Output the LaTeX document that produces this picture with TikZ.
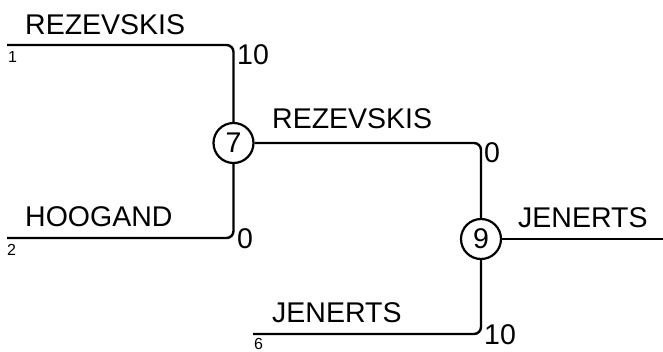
\documentclass[tikz,border=0pt]{standalone}
\usepackage{fontspec}
\setmainfont{Liberation Sans}
\begin{document}
\begin{tikzpicture}[x=1pt,y=-1pt,
  line/.style={line width=2.4pt, rounded corners=7pt},
  match/.style={circle, draw, line width=2.2pt, minimum size=40pt, inner sep=0pt, font=\fontsize{28.5}{30}\selectfont},
  lbl/.style={anchor=base west, inner sep=0pt, font=\fontsize{28.5}{30}\selectfont},
  seed/.style={anchor=base west, inner sep=0pt, font=\fontsize{16}{18}\selectfont}]
\useasboundingbox (0,0) rectangle (663,351);
\node[match] (c7) at (233.5,143) {7};
\node[match] (c9) at (481,239) {9};
\coordinate (l1) at (7,45);
\coordinate (l2) at (7,238);
\coordinate (l6) at (253,334);
\coordinate (out) at (663,239);
\draw[line] (l1) -| (c7);
\draw[line] (l2) -| (c7);
\draw[line] (c7) -| (c9);
\draw[line] (l6) -| (c9);
\draw[line] (c9) -- (out);
\node[lbl] (t1) at (25,34) {REZEVSKIS};
\node[lbl] (t2) at (25,226) {HOOGAND};
\node[lbl] (t3) at (272,128) {REZEVSKIS};
\node[lbl] (t4) at (518,227) {JENERTS};
\node[lbl] (t5) at (272,322) {JENERTS};
\node[lbl] (s1) at (237,64) {10};
\node[lbl] (s2) at (237,248) {0};
\node[lbl] (s3) at (484,162) {0};
\node[lbl] (s4) at (484,344) {10};
\node[seed] (n1) at (8,62) {1};
\node[seed] (n2) at (7,255) {2};
\node[seed] (n6) at (254,349) {6};
\end{tikzpicture}
\end{document}
